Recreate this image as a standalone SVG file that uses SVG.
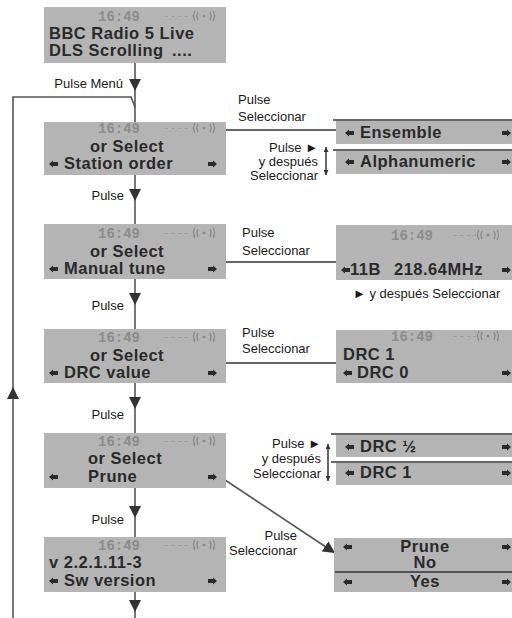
<svg xmlns="http://www.w3.org/2000/svg" width="512" height="618" viewBox="0 0 512 618">
<defs>
<style>
.bx{fill:#b4b4b4}
.tm{font-family:"Liberation Mono",monospace;font-weight:bold;font-size:14px;fill:#8c8c8c}
.ds{font-family:"Liberation Mono",monospace;font-size:11px;fill:#999}
.lc{font-family:"Liberation Sans",Arial,sans-serif;font-weight:bold;font-size:16.5px;fill:#2a2a2a;letter-spacing:0.5px}
.lb{font-family:"Liberation Sans","DejaVu Sans",Arial,sans-serif;font-size:13px;fill:#1a1a1a}
.ln{fill:none;stroke:#555;stroke-width:1.6}
.dv{fill:none;stroke:#333;stroke-width:1.5}
.sig{fill:none;stroke:#8c8c8c;stroke-width:1.3}
.ic{fill:#2a2a2a}
</style>
<path id="la" d="M0,0 L4,-3.5 V-2 H9 V2 H4 V3.5 Z"/>
<path id="ra" d="M9,0 L5,-3.5 V-2 H0 V2 H5 V3.5 Z"/>
<g id="sig"><path d="M-9,-5 Q-12,0 -9,5 M-6,-4 Q-8,0 -6,4 M6,-4 Q8,0 6,4 M9,-5 Q12,0 9,5"/><circle cx="0" cy="0" r="1.6" fill="#8c8c8c" stroke="none"/></g>
<marker id="ah" viewBox="0 0 10 10" refX="10" refY="5" markerWidth="12" markerHeight="12" markerUnits="userSpaceOnUse" orient="auto"><path d="M0,0 L10,5 L0,10 Z" fill="#333"/></marker>
<marker id="sa" viewBox="0 0 6 6" refX="6" refY="3" markerWidth="5" markerHeight="5" markerUnits="userSpaceOnUse" orient="auto"><path d="M0,0 L6,3 L0,6 Z" fill="#333"/></marker>
<marker id="sas" viewBox="0 0 6 6" refX="0" refY="3" markerWidth="5" markerHeight="5" markerUnits="userSpaceOnUse" orient="auto"><path d="M6,0 L0,3 L6,6 Z" fill="#333"/></marker>
</defs>
<rect width="512" height="618" fill="#fff"/>

<g id="connectors">
<path class="ln" d="M135,63 V91" marker-end="url(#ah)"/>
<path class="ln" d="M135,91 V122"/>
<path class="ln" d="M135,175 V201" marker-end="url(#ah)"/>
<path class="ln" d="M135,201 V224"/>
<path class="ln" d="M135,279 V305" marker-end="url(#ah)"/>
<path class="ln" d="M135,305 V329"/>
<path class="ln" d="M135,383 V409" marker-end="url(#ah)"/>
<path class="ln" d="M135,409 V433"/>
<path class="ln" d="M135,488 V518" marker-end="url(#ah)"/>
<path class="ln" d="M135,518 V537"/>
<path class="ln" d="M135,592 V612" marker-end="url(#ah)"/>
<path class="ln" d="M135,612 V618"/>
<path class="ln" d="M13,618 V387" marker-end="url(#ah)"/>
<path class="ln" d="M13,387 V97 H131 L135,107"/>
<path class="dv" d="M226,130 H337"/>
<path class="dv" d="M226,262 H337"/>
<path class="dv" d="M226,363 H337"/>
<path class="ln" d="M222,478 L335,553" marker-end="url(#ah)"/>
<path class="dv" d="M326,147 V175" stroke-width="1.2" marker-start="url(#sas)" marker-end="url(#sa)"/>
<path class="dv" d="M328,444 V481" stroke-width="1.2" marker-start="url(#sas)" marker-end="url(#sa)"/>
<text class="lb" x="123" y="88" text-anchor="end">Pulse Menú</text>
<text class="lb" x="124" y="200" text-anchor="end">Pulse</text>
<text class="lb" x="124" y="310" text-anchor="end">Pulse</text>
<text class="lb" x="124" y="419" text-anchor="end">Pulse</text>
<text class="lb" x="124" y="524" text-anchor="end">Pulse</text>
<text class="lb" x="238" y="104">Pulse</text>
<text class="lb" x="238" y="121">Seleccionar</text>
<text class="lb" x="318" y="152" text-anchor="end">Pulse ►</text>
<text class="lb" x="318" y="166" text-anchor="end">y después</text>
<text class="lb" x="318" y="180" text-anchor="end">Seleccionar</text>
<text class="lb" x="242" y="237">Pulse</text>
<text class="lb" x="242" y="255">Seleccionar</text>
<text class="lb" x="353" y="298">► y después Seleccionar</text>
<text class="lb" x="242" y="337">Pulse</text>
<text class="lb" x="242" y="353">Seleccionar</text>
<text class="lb" x="321" y="448" text-anchor="end">Pulse ►</text>
<text class="lb" x="321" y="463" text-anchor="end">y después</text>
<text class="lb" x="321" y="478" text-anchor="end">Seleccionar</text>
<text class="lb" x="297" y="540" text-anchor="end">Pulse</text>
<text class="lb" x="297" y="555" text-anchor="end">Seleccionar</text>
</g>

<g id="n1">
<rect class="bx" x="44" y="7" width="182" height="56"/>
<text class="tm" x="119" y="21" text-anchor="middle">16:49</text>
<text class="ds" x="163" y="19">----</text>
<use href="#sig" class="sig" x="204" y="16"/>
<text class="lc" x="49" y="39">BBC Radio 5 Live</text>
<text class="lc" x="49" y="56">DLS Scrolling</text>
<text class="lc" x="172" y="56" letter-spacing="8">....</text>
</g>

<g id="n2">
<rect class="bx" x="44" y="122" width="182" height="53"/>
<text class="tm" x="119" y="133" text-anchor="middle">16:49</text>
<text class="ds" x="163" y="131">----</text>
<use href="#sig" class="sig" x="204" y="128"/>
<text class="lc" x="127" y="152" text-anchor="middle">or Select</text>
<use href="#la" class="ic" x="49" y="164"/>
<text class="lc" x="64" y="169">Station order</text>
<use href="#ra" class="ic" x="208" y="164"/>
</g>

<g id="n3">
<rect class="bx" x="44" y="224" width="182" height="55"/>
<text class="tm" x="119" y="238" text-anchor="middle">16:49</text>
<text class="ds" x="163" y="236">----</text>
<use href="#sig" class="sig" x="204" y="233"/>
<text class="lc" x="127" y="257" text-anchor="middle">or Select</text>
<use href="#la" class="ic" x="49" y="269"/>
<text class="lc" x="64" y="274">Manual tune</text>
<use href="#ra" class="ic" x="208" y="269"/>
</g>

<g id="n4">
<rect class="bx" x="44" y="329" width="182" height="54"/>
<text class="tm" x="119" y="342" text-anchor="middle">16:49</text>
<text class="ds" x="163" y="340">----</text>
<use href="#sig" class="sig" x="204" y="337"/>
<text class="lc" x="127" y="361" text-anchor="middle">or Select</text>
<use href="#la" class="ic" x="49" y="373"/>
<text class="lc" x="64" y="378">DRC value</text>
<use href="#ra" class="ic" x="208" y="373"/>
</g>

<g id="n5">
<rect class="bx" x="44" y="433" width="182" height="55"/>
<text class="tm" x="119" y="446" text-anchor="middle">16:49</text>
<text class="ds" x="163" y="444">----</text>
<use href="#sig" class="sig" x="204" y="441"/>
<text class="lc" x="88" y="464">or Select</text>
<use href="#la" class="ic" x="49" y="477"/>
<text class="lc" x="88" y="482">Prune</text>
<use href="#ra" class="ic" x="208" y="477"/>
</g>

<g id="n6">
<rect class="bx" x="44" y="537" width="182" height="55"/>
<text class="tm" x="119" y="550" text-anchor="middle">16:49</text>
<text class="ds" x="163" y="548">----</text>
<use href="#sig" class="sig" x="204" y="545"/>
<text class="lc" x="49" y="568">v 2.2.1.11-3</text>
<use href="#la" class="ic" x="49" y="581"/>
<text class="lc" x="64" y="586">Sw version</text>
<use href="#ra" class="ic" x="208" y="581"/>
</g>

<g id="r1">
<path class="dv" d="M333,120 H512"/>
<rect class="bx" x="336" y="121" width="176" height="23"/>
<use href="#la" class="ic" x="345" y="133"/>
<text class="lc" x="360" y="138">Ensemble</text>
<use href="#ra" class="ic" x="502" y="133"/>
<path class="dv" d="M333,150 H512"/>
<rect class="bx" x="336" y="151" width="176" height="23"/>
<use href="#la" class="ic" x="345" y="162"/>
<text class="lc" x="360" y="167">Alphanumeric</text>
<use href="#ra" class="ic" x="502" y="162"/>
</g>

<g id="r2">
<rect class="bx" x="336" y="225" width="176" height="55"/>
<text class="tm" x="412" y="240" text-anchor="middle">16:49</text>
<text class="ds" x="452" y="238">----</text>
<use href="#sig" class="sig" x="488" y="235"/>
<use href="#la" class="ic" x="341" y="270"/>
<text class="lc" x="350" y="275">11B</text>
<text class="lc" x="394" y="275">218.64MHz</text>
<use href="#ra" class="ic" x="502" y="270"/>
</g>

<g id="r3">
<rect class="bx" x="336" y="330" width="176" height="53"/>
<text class="tm" x="412" y="341" text-anchor="middle">16:49</text>
<text class="ds" x="452" y="339">----</text>
<use href="#sig" class="sig" x="488" y="336"/>
<text class="lc" x="343" y="360">DRC 1</text>
<use href="#la" class="ic" x="343" y="373"/>
<text class="lc" x="357" y="378">DRC 0</text>
<use href="#ra" class="ic" x="502" y="373"/>
</g>

<g id="r4">
<path class="dv" d="M331,434 H512"/>
<rect class="bx" x="336" y="435" width="176" height="22"/>
<use href="#la" class="ic" x="345" y="447"/>
<text class="lc" x="360" y="452">DRC ½</text>
<use href="#ra" class="ic" x="502" y="447"/>
<path class="dv" d="M331,462 H512"/>
<rect class="bx" x="336" y="463" width="176" height="22"/>
<use href="#la" class="ic" x="345" y="473"/>
<text class="lc" x="360" y="478">DRC 1</text>
<use href="#ra" class="ic" x="502" y="473"/>
</g>

<g id="r5">
<rect class="bx" x="334" y="538" width="178" height="54"/>
<use href="#la" class="ic" x="343" y="547"/>
<text class="lc" x="425" y="552" text-anchor="middle">Prune</text>
<use href="#ra" class="ic" x="502" y="547"/>
<text class="lc" x="425" y="568" text-anchor="middle">No</text>
<path class="dv" d="M335,572 H512"/>
<use href="#la" class="ic" x="343" y="582"/>
<text class="lc" x="425" y="587" text-anchor="middle">Yes</text>
<use href="#ra" class="ic" x="502" y="582"/>
</g>
</svg>
